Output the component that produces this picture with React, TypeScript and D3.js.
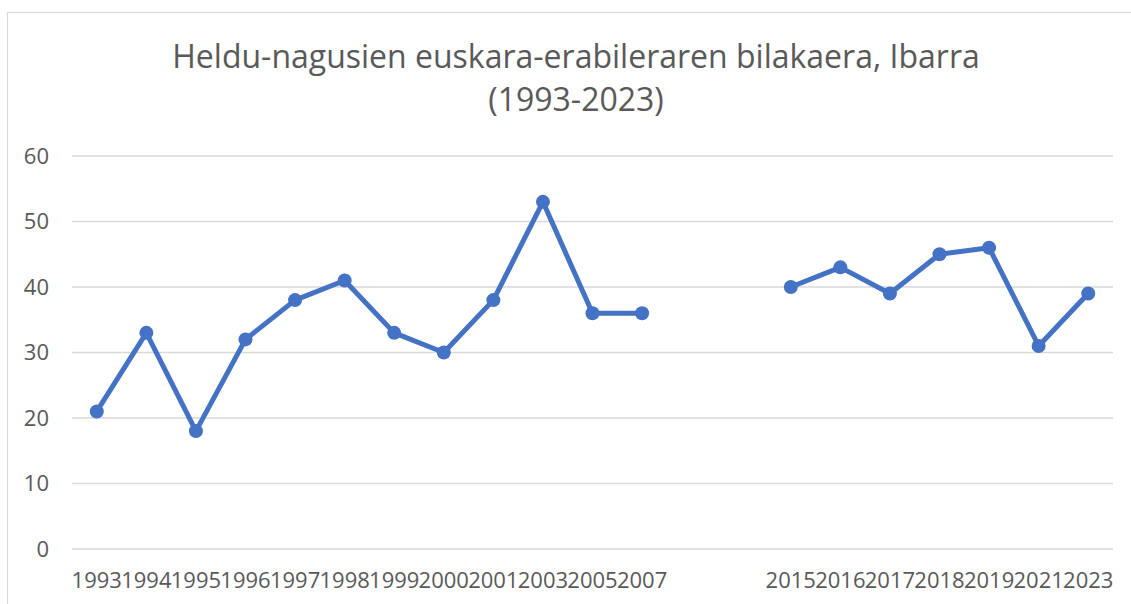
import React, { useRef, useEffect } from 'react';
import * as d3 from 'd3';

// years on the category axis; two empty slots between 2007 and 2015
const years = ['1993', '1994', '1995', '1996', '1997', '1998', '1999', '2000', '2001', '2003', '2005', '2007', '', '', '2015', '2016', '2017', '2018', '2019', '2021', '2023'];
const usage: (number | null)[] = [21, 33, 18, 32, 38, 41, 33, 30, 38, 53, 36, 36, null, null, 40, 43, 39, 45, 46, 31, 39];
const yTicks = [0, 10, 20, 30, 40, 50, 60];
const titleLines = ['Heldu-nagusien euskara-erabileraren bilakaera, Ibarra', '(1993-2023)'];

const W = 1131;
const H = 604;
const FONT = '"Open Sans", "Noto Sans", sans-serif';

const App = () => {
  const ref = useRef<SVGSVGElement | null>(null);

  useEffect(() => {
    if (!ref.current) return;
    const svg = d3.select(ref.current);
    svg.selectAll('*').remove();

    const left = 72, right = 1113, top = 156, bottom = 549;

    // chart frame
    svg.append('rect')
      .attr('x', 7.5).attr('y', 12.5)
      .attr('width', W + 20).attr('height', H + 20)
      .attr('fill', 'white').attr('stroke', '#d9d9d9').attr('stroke-width', 1.2);

    // title
    svg.append('text')
      .attr('text-anchor', 'middle')
      .attr('font-family', FONT).attr('font-size', 32)
      .attr('fill', '#595959')
      .selectAll('tspan')
      .data(titleLines)
      .enter()
      .append('tspan')
      .attr('x', 576)
      .attr('y', (d, i) => 68 + i * 43)
      .text(d => d);

    const x = d3.scaleBand<number>()
      .domain(years.map((d, i) => i))
      .range([left, right]);
    const y = d3.scaleLinear().domain([0, 60]).range([bottom, top]);

    // gridlines
    svg.append('g')
      .selectAll('line')
      .data(yTicks)
      .enter()
      .append('line')
      .attr('x1', left).attr('x2', right)
      .attr('y1', d => y(d)).attr('y2', d => y(d))
      .attr('stroke', '#d9d9d9').attr('stroke-width', 1.5);

    // y labels
    svg.append('g')
      .selectAll('text')
      .data(yTicks)
      .enter()
      .append('text')
      .attr('x', 49)
      .attr('y', d => y(d))
      .attr('dy', '0.35em')
      .attr('text-anchor', 'end')
      .attr('font-family', FONT).attr('font-size', 22)
      .attr('fill', '#595959')
      .text(d => d);

    // x labels
    svg.append('g')
      .selectAll('text')
      .data(years)
      .enter()
      .append('text')
      .attr('x', (d, i) => (x(i) as number) + x.bandwidth() / 2)
      .attr('y', 588)
      .attr('text-anchor', 'middle')
      .attr('font-family', FONT).attr('font-size', 22)
      .attr('fill', '#595959')
      .text(d => d);

    const cx = (i: number) => (x(i) as number) + x.bandwidth() / 2;

    const line = d3.line<number | null>()
      .defined(d => d != null)
      .x((d, i) => cx(i))
      .y(d => y(d as number));

    svg.append('path')
      .datum(usage)
      .attr('d', line)
      .attr('fill', 'none')
      .attr('stroke', '#4472c4')
      .attr('stroke-width', 5)
      .attr('stroke-linejoin', 'round');

    svg.append('g')
      .selectAll('circle')
      .data(usage.map((v, i) => ({ v, i })).filter(d => d.v != null))
      .enter()
      .append('circle')
      .attr('cx', d => cx(d.i))
      .attr('cy', d => y(d.v as number))
      .attr('r', 7)
      .attr('fill', '#4472c4');
  }, []);

  return (
    <svg
      ref={ref}
      width={W}
      height={H}
      style={{ position: 'absolute', left: 0, top: 0, background: 'white' }}
    />
  );
};

export default App;
